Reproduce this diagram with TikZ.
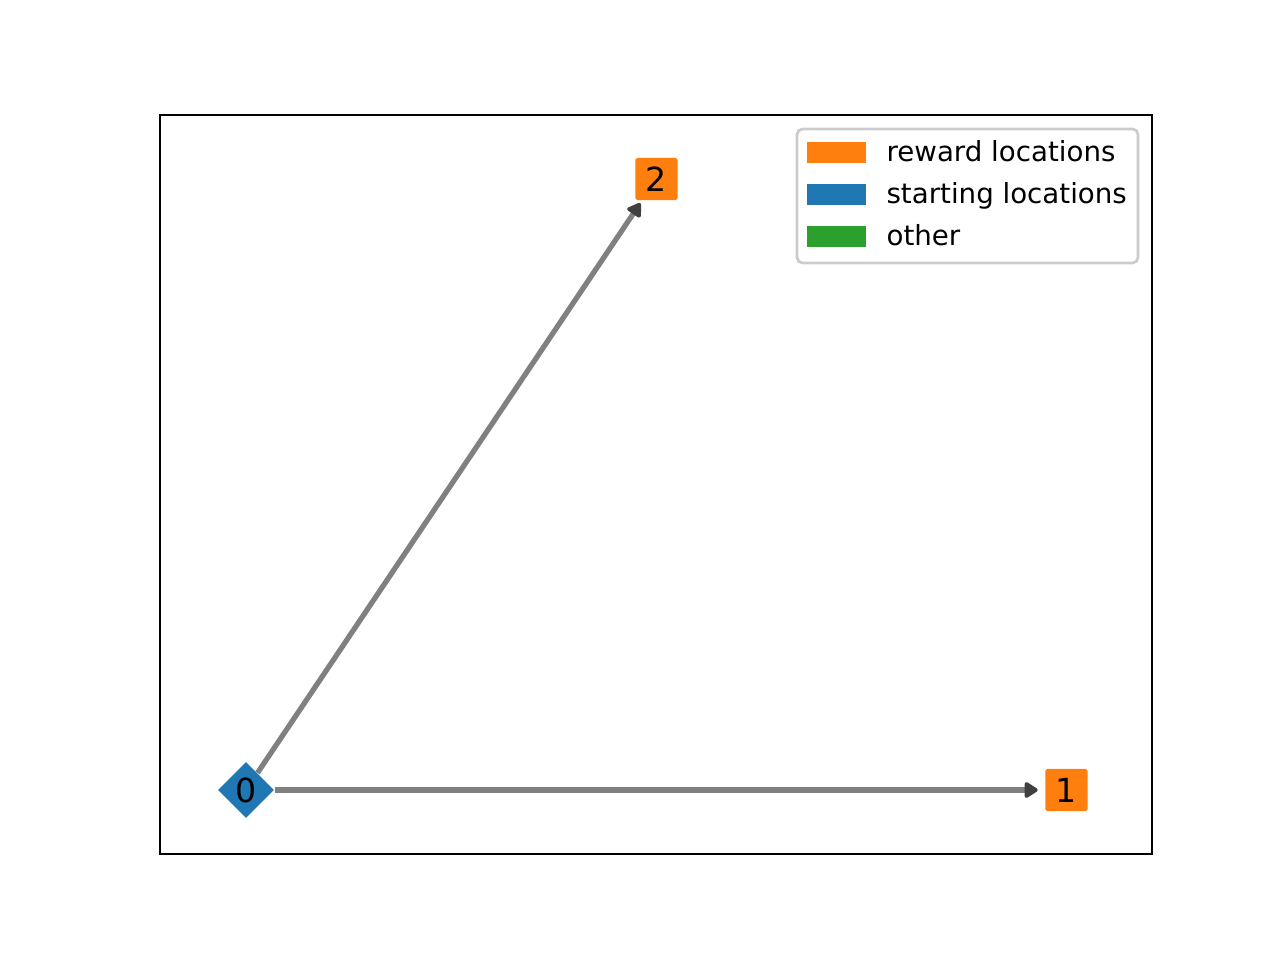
\documentclass[tikz,border=0pt]{standalone}
\usepackage{fontspec}
\setmainfont{DejaVu Sans}
\usetikzlibrary{shapes.geometric,arrows.meta}
\definecolor{taborange}{HTML}{FF7F0E}
\definecolor{tabblue}{HTML}{1F77B4}
\definecolor{tabgreen}{HTML}{2CA02C}
\definecolor{edgegray}{HTML}{808080}
\definecolor{headgray}{HTML}{404040}
\definecolor{leggray}{HTML}{CCCCCC}
\begin{document}
\begin{tikzpicture}[x=0.36135pt, y=-0.36135pt,
  rewardbox/.style={rectangle, fill=taborange, draw=none, minimum width=15.2pt, minimum height=15.2pt, inner sep=0pt, rounded corners=0.6pt, font=\fontsize{12}{14}\selectfont},
  startbox/.style={diamond, aspect=1, fill=tabblue, draw=none, minimum width=20.3pt, minimum height=20.3pt, inner sep=0pt, font=\fontsize{12}{14}\selectfont},
  edgeline/.style={draw=edgegray, line width=1.9pt, -{Triangle[length=5.4pt, width=6.4pt, round, fill=headgray, color=headgray]}},
  legpatch/.style={fill=#1, draw=none},
  legtext/.style={anchor=base west, inner sep=0pt, font=\fontsize{10}{12}\selectfont}
]
\useasboundingbox (0,0) rectangle (1280,960);
\draw[black, line width=0.8pt] (160,115) rectangle (1152,854);
\node[startbox] (n0) at (246,790) {0};
\node[rewardbox] (n1) at (1066.5,790) {1};
\node[rewardbox] (n2) at (656.5,179) {2};
\draw[edgeline, shorten >=2.6pt] (n0) -- (n1);
\draw[edgeline, shorten >=1.1pt] (n0) -- (n2);
% legend
\draw[draw=leggray, line width=1pt, fill=white, rounded corners=2pt] (797,129) rectangle (1138,263);
\fill[legpatch=taborange] (807,142) rectangle (866,163);
\fill[legpatch=tabblue] (807,184) rectangle (866,205);
\fill[legpatch=tabgreen] (807,226) rectangle (866,247);
\node[legtext] (l1) at (886,162) {reward locations};
\node[legtext] (l2) at (886,204) {starting locations};
\node[legtext] (l3) at (886,246) {other};
\end{tikzpicture}
\end{document}
